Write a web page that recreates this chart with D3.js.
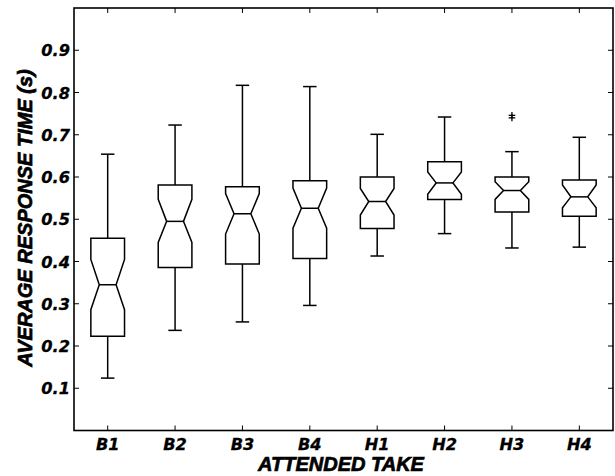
<!DOCTYPE html>
<html><head><meta charset="utf-8">
<script src="https://cdn.jsdelivr.net/npm/d3@7"></script>
<style>
body{margin:0;background:#fff;}
text{font-weight:bold;fill:#000;}
.tick{font-family:"DejaVu Sans",sans-serif;font-style:oblique;}
.title{font-family:"Liberation Sans",Arial,sans-serif;font-style:italic;}
</style></head><body>
<svg id="c" width="615" height="476"></svg>
<script>
const categories = ["B1","B2","B3","B4","H1","H2","H3","H4"];
const whiskerHigh = [0.654,0.723,0.817,0.814,0.701,0.742,0.660,0.694];
const q3          = [0.455,0.581,0.577,0.591,0.600,0.636,0.600,0.593];
const notchHigh   = [0.405,0.547,0.561,0.574,0.573,0.612,0.589,0.581];
const median      = [0.345,0.495,0.513,0.526,0.542,0.586,0.568,0.553];
const notchLow    = [0.286,0.445,0.465,0.479,0.510,0.559,0.547,0.527];
const q1          = [0.223,0.386,0.394,0.407,0.478,0.547,0.517,0.507];
const whiskerLow  = [0.124,0.237,0.257,0.296,0.413,0.466,0.432,0.434];
const outliers    = [{cat:"H3",v:0.746},{cat:"H3",v:0.740}];
const yTicks = [0.1,0.2,0.3,0.4,0.5,0.6,0.7,0.8,0.9];

const svg = d3.select("#c");
const L=74,R=613,T=8,B=430.5;
const x = d3.scaleLinear().domain([0.5,8.5]).range([L,R]);
const y = d3.scaleLinear().domain([0,1]).range([B,T]);
const xi = c => x(categories.indexOf(c)+1);

// frame
svg.append("rect").attr("x",L).attr("y",T).attr("width",R-L).attr("height",B-T)
  .attr("fill","none").attr("stroke","#000").attr("stroke-width",1.6);

// ticks (inside)
const tl=5;
const g=svg.append("g").attr("stroke","#000").attr("stroke-width",1);
yTicks.forEach(t=>{
  g.append("line").attr("x1",L).attr("x2",L+tl).attr("y1",y(t)).attr("y2",y(t));
  g.append("line").attr("x1",R).attr("x2",R-tl).attr("y1",y(t)).attr("y2",y(t));
});
categories.forEach(c=>{
  g.append("line").attr("x1",xi(c)).attr("x2",xi(c)).attr("y1",B).attr("y2",B-tl);
  g.append("line").attr("x1",xi(c)).attr("x2",xi(c)).attr("y1",T).attr("y2",T+tl);
});

// tick labels
const fs=16.2, tfs=20;
svg.append("g").selectAll("text").data(yTicks).join("text").attr("class","tick")
  .attr("x",L-4).attr("y",t=>y(t)+6).attr("text-anchor","end")
  .attr("font-size",fs).attr("stroke","#000").attr("stroke-width",0.3)
  .text(t=>d3.format(".1f")(t));
svg.append("g").selectAll("text").data(categories).join("text").attr("class","tick")
  .attr("x",c=>xi(c)).attr("y",450).attr("text-anchor","middle")
  .attr("font-size",fs).attr("stroke","#000").attr("stroke-width",0.3)
  .text(c=>c);

// axis titles
svg.append("text").attr("class","title").attr("x",341).attr("y",471).attr("text-anchor","middle")
  .attr("font-size",tfs).attr("stroke","#000").attr("stroke-width",0.7).text("ATTENDED TAKE");
svg.append("text").attr("class","title").attr("transform",`translate(32,218) rotate(-90)`)
  .attr("text-anchor","middle").attr("font-size",tfs).attr("stroke","#000").attr("stroke-width",0.7)
  .text("AVERAGE RESPONSE TIME (s)");

// boxes
const bw = x(0.25)-x(0), nw = bw*0.5, cw = x(0.1)-x(0);
const bg = svg.append("g").attr("fill","none").attr("stroke","#000").attr("stroke-width",1.5)
  .attr("stroke-linejoin","miter");
categories.forEach((c,i)=>{
  const cx=xi(c);
  bg.append("line").attr("x1",cx).attr("x2",cx).attr("y1",y(q3[i])).attr("y2",y(whiskerHigh[i]));
  bg.append("line").attr("x1",cx).attr("x2",cx).attr("y1",y(q1[i])).attr("y2",y(whiskerLow[i]));
  bg.append("line").attr("x1",cx-cw).attr("x2",cx+cw).attr("y1",y(whiskerHigh[i])).attr("y2",y(whiskerHigh[i]));
  bg.append("line").attr("x1",cx-cw).attr("x2",cx+cw).attr("y1",y(whiskerLow[i])).attr("y2",y(whiskerLow[i]));
  const pts=[[cx-bw,q3[i]],[cx+bw,q3[i]],[cx+bw,notchHigh[i]],[cx+nw,median[i]],[cx+bw,notchLow[i]],
    [cx+bw,q1[i]],[cx-bw,q1[i]],[cx-bw,notchLow[i]],[cx-nw,median[i]],[cx-bw,notchHigh[i]]];
  bg.append("path").attr("d",d3.line().x(p=>p[0]).y(p=>y(p[1]))(pts)+"Z").attr("fill","#fff");
  bg.append("line").attr("x1",cx-nw).attr("x2",cx+nw).attr("y1",y(median[i])).attr("y2",y(median[i]));
});
// outliers
const og=svg.append("g").attr("stroke","#000").attr("stroke-width",1.3);
outliers.forEach(o=>{
  const cx=xi(o.cat), cy=y(o.v), s=3.3;
  og.append("line").attr("x1",cx-s).attr("x2",cx+s).attr("y1",cy).attr("y2",cy);
  og.append("line").attr("x1",cx).attr("x2",cx).attr("y1",cy-s).attr("y2",cy+s);
});
</script></body></html>
